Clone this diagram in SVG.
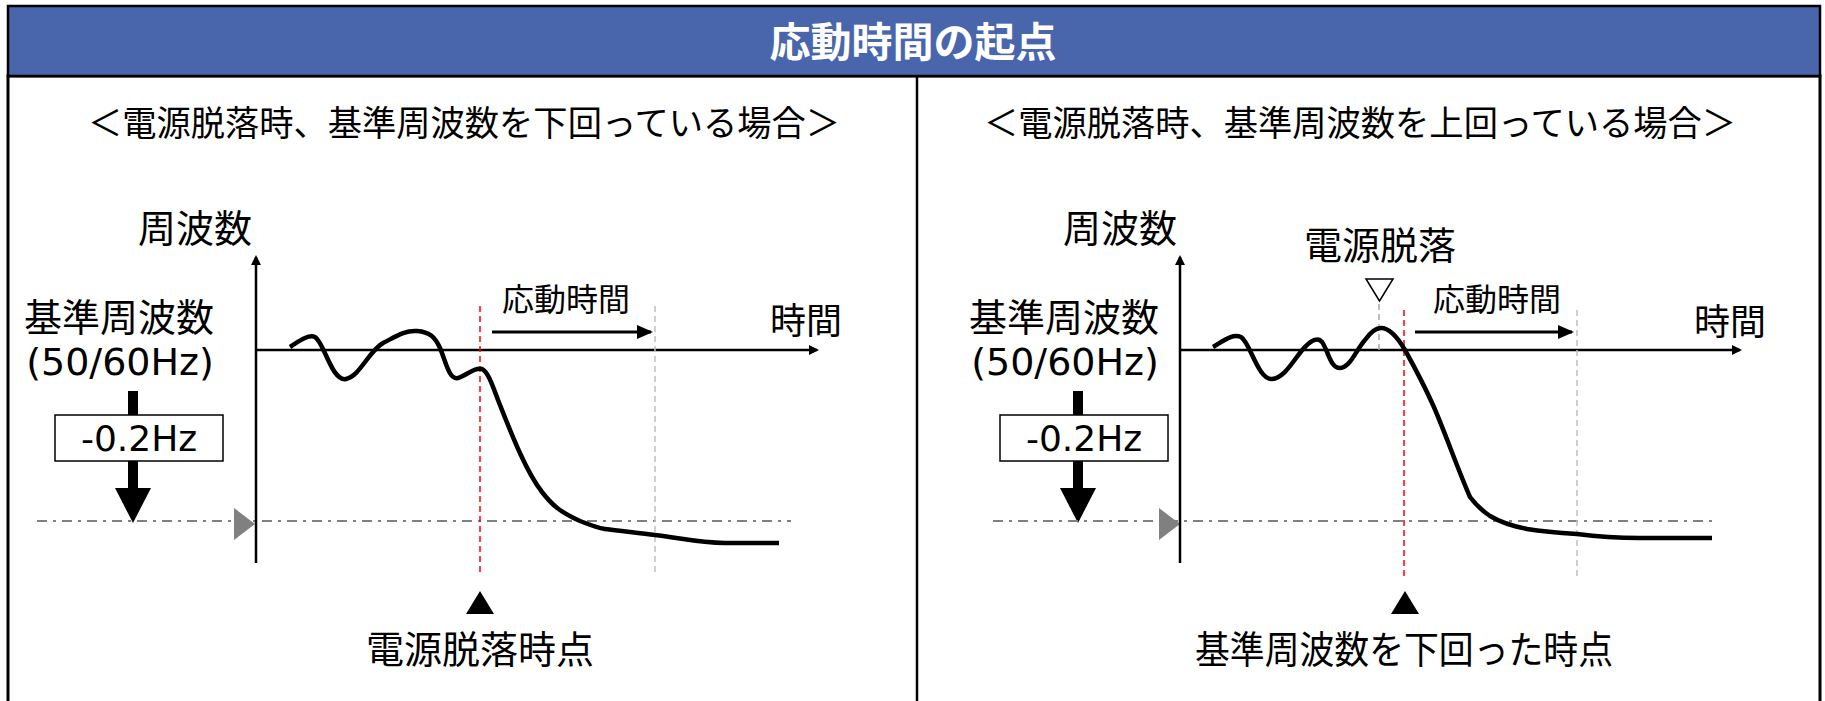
<svg xmlns="http://www.w3.org/2000/svg" width="1825" height="701" viewBox="0 0 1825 701">
<defs>
<style>
.jp{font-family:"Noto Sans CJK JP","Noto Sans CJK SC",sans-serif;fill:#000;text-anchor:middle}
.lat{font-family:"DejaVu Sans","Noto Sans CJK JP",sans-serif;fill:#000;text-anchor:middle}
.axis{stroke:#000;stroke-width:2.5;fill:none}
.curve{stroke:#000;stroke-width:4.5;fill:none;stroke-linejoin:round;stroke-linecap:butt}
.red{stroke:#ff0000;stroke-width:1.5;stroke-dasharray:6 4;fill:none}
.gry{stroke:#c0c0c0;stroke-width:1.5;stroke-dasharray:6 4;fill:none}
.dd{stroke:#808080;stroke-width:2;stroke-dasharray:10 6 3 6;fill:none}
</style>
<marker id="ah" markerWidth="10" markerHeight="10" refX="8" refY="5" orient="auto" markerUnits="userSpaceOnUse"><path d="M0,0 L10,5 L0,10 Z" fill="#000"/></marker>
<marker id="ahb" markerWidth="16" markerHeight="14" refX="14" refY="7" orient="auto" markerUnits="userSpaceOnUse"><path d="M0,0 L16,7 L0,14 Z" fill="#000"/></marker>
</defs>
<rect x="0" y="0" width="1825" height="701" fill="#fff"/>
<g id="frame">
<rect x="8" y="76" width="1812" height="640" fill="#fff" stroke="#000" stroke-width="3"/>
<rect x="8" y="6" width="1812" height="70" fill="#4966ad" stroke="#000" stroke-width="2.5"/>
<line x1="917" y1="76" x2="917" y2="701" stroke="#000" stroke-width="2.5"/>
<text x="913" y="57" class="jp" style="fill:#fff;font-weight:700;font-size:41px">応動時間の起点</text>
</g>
<g id="left-panel">
<text x="464" y="136" class="jp" font-size="35" textLength="752" lengthAdjust="spacingAndGlyphs">＜電源脱落時、基準周波数を下回っている場合＞</text>
<text x="195" y="242" class="jp" font-size="38">周波数</text>
<text x="119" y="331" class="jp" font-size="38">基準周波数</text>
<text x="120" y="375" class="lat" font-size="38">(50/60Hz)</text>
<g id="left-drop">
<rect x="128" y="391" width="10" height="100" fill="#000"/>
<polygon points="115,488 151,488 133,523" fill="#000"/>
<rect x="55" y="415" width="168" height="46" fill="#fff" stroke="#000" stroke-width="1.5"/>
<text x="139" y="451" class="lat" font-size="36">-0.2Hz</text>
</g>
<line x1="37" y1="521" x2="791" y2="521" class="dd"/>
<polygon points="234,508 255,524 234,540" fill="#808080"/>
<line x1="256" y1="563" x2="256" y2="257" class="axis" marker-end="url(#ah)"/>
<line x1="256" y1="350" x2="817" y2="350" class="axis" marker-end="url(#ah)"/>
<text x="806" y="334" class="jp" font-size="36">時間</text>
<line x1="480" y1="306" x2="480" y2="576" class="red"/>
<line x1="655" y1="306" x2="655" y2="576" class="gry"/>
<text x="566" y="311" class="jp" font-size="32">応動時間</text>
<line x1="492" y1="332" x2="651" y2="332" stroke="#000" stroke-width="3" marker-end="url(#ahb)"/>
<path class="curve" d="M290,347 C298,342 308,334 315,337 C324,342 332,382 346,379 C360,376 368,352 383,343 C395,337 405,330 417,331 C430,332 435,337 440,348 C446,362 449,380 458,378 C466,376 474,367 482,369 C488,372 492,384 498,400 C510,430 525,470 542,492 C552,505 560,512 580,521 C590,525 598,528 605,529 C620,531 640,533 655,535 C680,538 700,543 725,543 L779,543"/>
<polygon points="466,614 494,614 480,591" fill="#000"/>
<text x="480" y="663" class="jp" font-size="38">電源脱落時点</text>
</g>
<g id="right-panel">
<text x="1360" y="136" class="jp" font-size="35" textLength="752" lengthAdjust="spacingAndGlyphs">＜電源脱落時、基準周波数を上回っている場合＞</text>
<text x="1120" y="242" class="jp" font-size="38">周波数</text>
<text x="1064" y="331" class="jp" font-size="38">基準周波数</text>
<text x="1065" y="375" class="lat" font-size="38">(50/60Hz)</text>
<g id="right-drop">
<rect x="1073" y="391" width="10" height="100" fill="#000"/>
<polygon points="1060,488 1096,488 1078,523" fill="#000"/>
<rect x="1000" y="415" width="168" height="46" fill="#fff" stroke="#000" stroke-width="1.5"/>
<text x="1084" y="451" class="lat" font-size="36">-0.2Hz</text>
</g>
<line x1="993" y1="521" x2="1713" y2="521" class="dd"/>
<polygon points="1159,508 1180,524 1159,540" fill="#808080"/>
<line x1="1180" y1="563" x2="1180" y2="257" class="axis" marker-end="url(#ah)"/>
<line x1="1180" y1="350" x2="1740" y2="350" class="axis" marker-end="url(#ah)"/>
<text x="1730" y="335" class="jp" font-size="36">時間</text>
<text x="1380" y="259" class="jp" font-size="38">電源脱落</text>
<polygon points="1366,279 1393,279 1379.5,301" fill="#fff" stroke="#000" stroke-width="1.5"/>
<line x1="1379" y1="304" x2="1379" y2="350" class="gry" style="stroke:#a6a6a6"/>
<line x1="1404" y1="310" x2="1404" y2="576" class="red"/>
<line x1="1577" y1="310" x2="1577" y2="576" class="gry"/>
<text x="1497" y="311" class="jp" font-size="32">応動時間</text>
<line x1="1415" y1="332" x2="1572" y2="332" stroke="#000" stroke-width="3" marker-end="url(#ahb)"/>
<path class="curve" d="M1213,347 C1222,342 1232,333 1241,337 C1250,342 1258,380 1272,379 C1286,378 1296,355 1306,346 C1312,340 1318,337 1322,342 C1328,350 1330,368 1340,368 C1350,368 1356,350 1365,340 C1370,333 1375,328 1381,328 C1390,328 1398,338 1405,350 C1415,368 1424,385 1433,405 C1445,432 1458,470 1470,497 C1476,505 1481,510 1490,516 C1500,522 1512,526 1527,529 C1545,532 1560,533 1577,534 C1600,537 1620,538 1640,538 L1712,538"/>
<polygon points="1391,614 1419,614 1405,591" fill="#000"/>
<text x="1404" y="663" class="jp" font-size="38" textLength="418" lengthAdjust="spacingAndGlyphs">基準周波数を下回った時点</text>
</g>
</svg>
